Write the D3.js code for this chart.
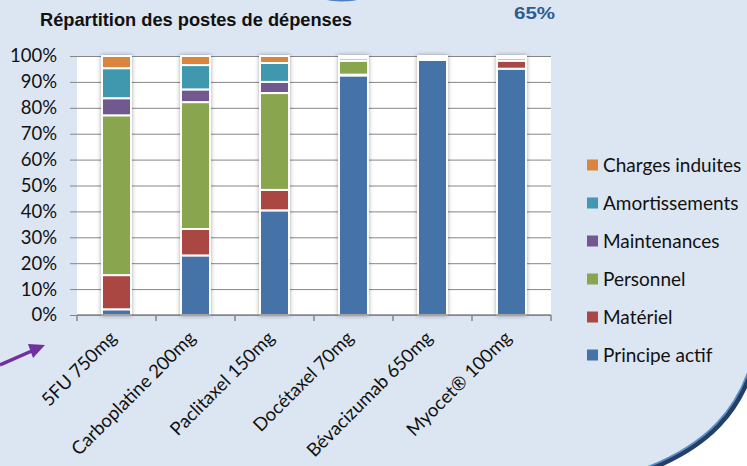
<!DOCTYPE html>
<html>
<head>
<meta charset="utf-8">
<script src="https://cdn.jsdelivr.net/npm/d3@7"></script>
<style>
  body { margin: 0; background: #fff; }
  text { font-family: Lato, "Open Sans", sans-serif; }
</style>
</head>
<body>
<div id="chart"></div>
<script>
// data (percent of total cost per drug)
const categories = ["5FU 750mg", "Carboplatine 200mg", "Paclitaxel 150mg", "Docétaxel 70mg", "Bévacizumab 650mg", "Myocet® 100mg"];
const seriesNames = ["Principe actif", "Matériel", "Personnel", "Maintenances", "Amortissements", "Charges induites"];
const principeActif   = [2.2, 23.0, 40.4, 92.5, 98.5, 95.1];
const materiel        = [13.2, 10.2, 7.9, 0.3, 0.4, 3.1];
const personnel       = [61.7, 49.0, 37.4, 5.4, 0.4, 1.0];
const maintenances    = [6.6, 4.9, 4.3, 0.1, 0.1, 0.2];
const amortissements  = [11.6, 9.4, 7.3, 1.0, 0.3, 0.3];
const chargesInduites = [4.7, 3.5, 2.7, 0.7, 0.3, 0.3];
const yTicks = [0, 10, 20, 30, 40, 50, 60, 70, 80, 90, 100];

const colors = ["#4572a7", "#aa4643", "#89a54e", "#71588f", "#4198af", "#db843d"];
const allSeries = [principeActif, materiel, personnel, maintenances, amortissements, chargesInduites];

// build table for d3.stack
const table = categories.map(function(c, i) {
  let row = {cat: c};
  seriesNames.forEach(function(s, j) { row[s] = allSeries[j][i]; });
  return row;
});

const W = 747, H = 466;
const svg = d3.select('#chart').append('svg')
  .attr('width', W)
  .attr('height', H);

const defs = svg.append('defs');
const shadow = defs.append('filter').attr('id', 'shadow')
  .attr('x', '-30%').attr('y', '-5%').attr('width', '160%').attr('height', '110%');
shadow.append('feDropShadow')
  .attr('dx', 0).attr('dy', 0).attr('stdDeviation', 2)
  .attr('flood-color', '#000').attr('flood-opacity', 0.35);

// background slide shape (light blue with curved dark blue border bottom right)
svg.append('rect').attr('width', W).attr('height', H).attr('fill', '#ffffff');
svg.append('path')
  .attr('d', 'M -10 -10 H 760 V 335 C 748 412, 705 452, 630 476 L -10 480 Z')
  .attr('fill', '#dce6f2')
  .attr('stroke', '#243f66')
  .attr('stroke-width', 5);
svg.append('path')
  .attr('d', 'M 760 335 C 748 412, 705 452, 630 476')
  .attr('fill', 'none')
  .attr('stroke', '#5b8cc8')
  .attr('stroke-width', 1.8)
  .attr('transform', 'translate(-2,-2)');

// little blue shape at the top
svg.append('ellipse')
  .attr('cx', 342).attr('cy', -9).attr('rx', 30).attr('ry', 10.5)
  .attr('fill', '#4f81bd');

// title
svg.append('text')
  .attr('x', 40).attr('y', 26)
  .attr('textLength', 312)
  .attr('lengthAdjust', 'spacingAndGlyphs')
  .style('font-family', '"Liberation Sans", Arial, sans-serif')
  .style('font-weight', 'bold')
  .style('font-size', '18.5px')
  .attr('fill', '#111')
  .text('Répartition des postes de dépenses');

svg.append('text')
  .attr('x', 514).attr('y', 19)
  .attr('textLength', 41)
  .attr('lengthAdjust', 'spacingAndGlyphs')
  .style('font-family', '"Liberation Sans", Arial, sans-serif')
  .style('font-weight', 'bold')
  .style('font-size', '17px')
  .attr('fill', '#2d5c95')
  .text('65%');

// scales
const x = d3.scaleBand()
  .domain(categories)
  .range([77, 551])
  .padding(0);
const y = d3.scaleLinear()
  .domain([0, 100])
  .range([315, 56]);

// plot area
svg.append('rect')
  .attr('x', 77).attr('y', 56)
  .attr('width', 551 - 77).attr('height', 315 - 56)
  .attr('fill', '#fff');

// gridlines + y ticks
svg.append('g')
  .attr('transform', 'translate(77,0)')
  .call(d3.axisLeft(y).tickValues(yTicks).tickSize(-(551 - 77)).tickSizeOuter(0).tickFormat(d => d + '%').tickPadding(0))
  .call(g => g.select('.domain').remove())
  .call(g => g.selectAll('.tick line').attr('stroke', '#868686').attr('x1', -7))
  .call(g => g.selectAll('.tick text')
    .attr('x', -20)
    .style('font-size', '18.5px')
    .style('font-family', 'Lato, sans-serif')
    .attr('fill', '#111'));

// bars
const stacked = d3.stack().keys(seriesNames)(table);
const barW = 29;
const layer = svg.append('g').attr('filter', 'url(#shadow)');
stacked.forEach(function(s, j) {
  layer.append('g')
    .selectAll('rect')
    .data(s)
    .enter()
    .append('rect')
      .attr('x', d => x(d.data.cat) + x.bandwidth() / 2 - barW / 2)
      .attr('y', d => y(d[1]))
      .attr('width', barW)
      .attr('height', d => Math.max(0, y(d[0]) - y(d[1])))
      .attr('fill', colors[j])
      .attr('stroke', '#fff')
      .attr('stroke-width', 2);
});

// x axis with ticks at category boundaries
const xAxis = svg.append('g');
xAxis.append('line')
  .attr('x1', 77).attr('x2', 551)
  .attr('y1', y(0)).attr('y2', y(0))
  .attr('stroke', '#868686').attr('stroke-width', 1.5);
xAxis.selectAll('.bt')
  .data(categories.concat(['end']))
  .enter()
  .append('line')
    .attr('x1', (d, i) => i < categories.length ? x(d) : 551)
    .attr('x2', (d, i) => i < categories.length ? x(d) : 551)
    .attr('y1', y(0)).attr('y2', y(0) + 6)
    .attr('stroke', '#868686').attr('stroke-width', 1.5);
xAxis.selectAll('.lbl')
  .data(categories)
  .enter()
  .append('text')
    .attr('transform', d => 'translate(' + (x(d) + x.bandwidth() / 2 + 1) + ',339) rotate(-45)')
    .attr('text-anchor', 'end')
    .style('font-size', '18.5px')
    .attr('fill', '#111')
    .text(d => d);

// legend
const legendOrder = seriesNames.slice().reverse();
const legend = svg.append('g');
legendOrder.forEach(function(name, i) {
  const j = seriesNames.indexOf(name);
  const cy = 165 + i * 38;
  legend.append('rect')
    .attr('x', 587).attr('y', cy - 5.5)
    .attr('width', 11).attr('height', 11)
    .attr('fill', colors[j]);
  legend.append('text')
    .attr('x', 603).attr('y', cy)
    .attr('dy', '0.35em')
    .style('font-size', '19px')
    .attr('fill', '#111')
    .text(name);
});

// purple arrow pointing at the first label
svg.append('line')
  .attr('x1', 0).attr('y1', 365)
  .attr('x2', 34).attr('y2', 350)
  .attr('stroke', '#7030a0').attr('stroke-width', 3.5);
svg.append('path')
  .attr('d', 'M 45 345 L 28 344 L 33 358 Z')
  .attr('fill', '#7030a0');
</script>
</body>
</html>
